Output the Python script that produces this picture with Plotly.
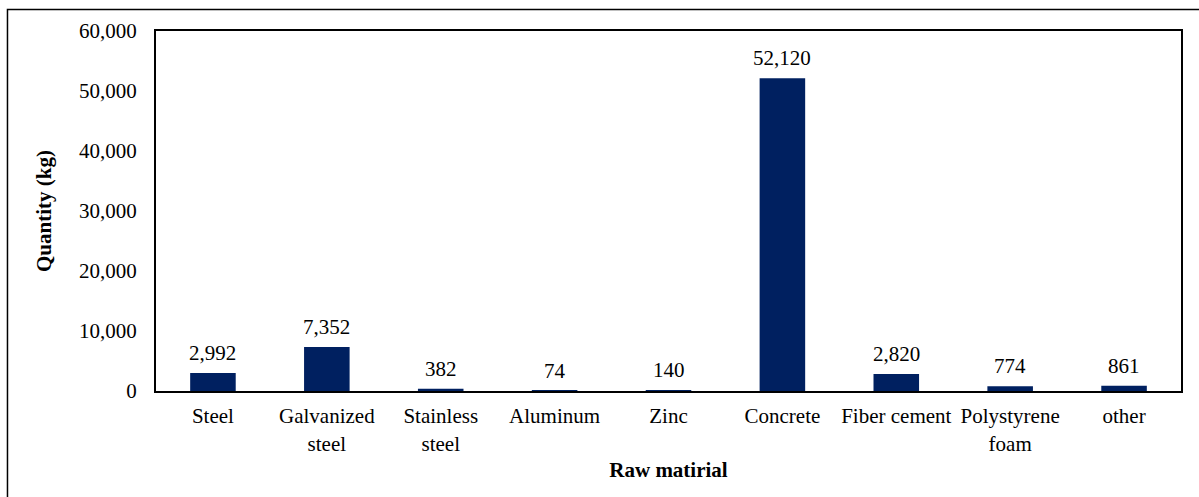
import plotly.graph_objects as go

categories = ["Steel", "Galvanized<br>steel", "Stainless<br>steel", "Aluminum", "Zinc",
              "Concrete", "Fiber cement", "Polystyrene<br>foam", "other"]
quantities = [2992, 7352, 382, 74, 140, 52120, 2820, 774, 861]
y_ticks = [0, 10000, 20000, 30000, 40000, 50000, 60000]

FONT = "Times New Roman, Liberation Serif, DejaVu Serif, serif"
FONT_SIZE = 21
BAR_COLOR = "#002060"

fig = go.Figure(
    go.Bar(
        x=categories,
        y=quantities,
        marker=dict(color=BAR_COLOR, line=dict(width=0)),
        hoverinfo="x+y",
    )
)

# value labels above each bar
for cat, val in zip(categories, quantities):
    fig.add_annotation(
        x=cat, y=val, text=f"{val:,}", showarrow=False,
        yanchor="bottom", yshift=6,
        font=dict(family=FONT, size=FONT_SIZE, color="#000000"),
    )

# outer frame around the whole chart
fig.add_shape(
    type="rect", xref="paper", yref="paper",
    x0=-0.1449, x1=1.03, y0=-0.33, y1=1.0597,
    line=dict(color="#000000", width=1.5), layer="below",
)

fig.update_layout(
    width=1199, height=497,
    margin=dict(l=156, r=18, t=31, b=106),
    paper_bgcolor="#ffffff", plot_bgcolor="#ffffff",
    bargap=0.6,
    showlegend=False,
    font=dict(family=FONT, size=FONT_SIZE, color="#000000"),
    xaxis=dict(
        title=dict(text="<b>Raw matirial</b>", font=dict(family=FONT, size=FONT_SIZE), standoff=8),
        showline=True, linecolor="#000000", linewidth=2, mirror=True,
        ticks="", ticklabelstandoff=5,
        tickfont=dict(family=FONT, size=FONT_SIZE),
    ),
    yaxis=dict(
        title=dict(text="<b>Quantity (kg)</b>", font=dict(family=FONT, size=FONT_SIZE), standoff=22),
        range=[0, 60000], tickvals=y_ticks, tickformat=",d",
        showline=True, linecolor="#000000", linewidth=2, mirror=True,
        showgrid=False, zeroline=False, ticks="", ticklabelstandoff=13,
        tickfont=dict(family=FONT, size=FONT_SIZE),
    ),
)

fig.write_html("out.html")
